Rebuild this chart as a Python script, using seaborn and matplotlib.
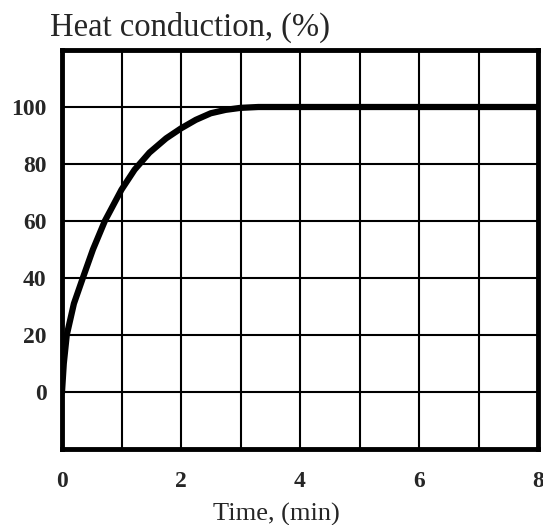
import matplotlib
matplotlib.use("Agg")
import matplotlib.pyplot as plt
import seaborn as sns
import pandas as pd

time_min = [0, 0.03, 0.08, 0.2, 0.35, 0.52, 0.72, 1.0, 1.22, 1.47, 1.75, 2.0, 2.25, 2.5, 2.75, 3.0, 3.3, 3.6, 8]
heat_pct = [0, 10, 20, 31, 40, 50, 60, 71, 78, 84, 89, 92.5, 95.5, 97.8, 99, 99.7, 100, 100, 100]

x_ticks = [0, 1, 2, 3, 4, 5, 6, 7, 8]
x_labels = ["0", "", "2", "", "4", "", "6", "", "8"]
y_ticks = [-20, 0, 20, 40, 60, 80, 100, 120]
y_labels = ["", "0", "20", "40", "60", "80", "100", ""]

sns.set_style("white")
plt.rcParams["font.family"] = ["Liberation Serif", "DejaVu Serif"]

df = pd.DataFrame({"t": time_min, "h": heat_pct})

fig = plt.figure(figsize=(5.43, 5.25), dpi=100)
ax = fig.add_axes([62/543, 1-449/525, (538-62)/543, (449-50)/525])

sns.lineplot(data=df, x="t", y="h", ax=ax, color="black", linewidth=4.5, sort=True)

ax.set_xlim(0, 8)
ax.set_ylim(-20, 120)
ax.set_xticks(x_ticks)
ax.set_xticklabels(x_labels)
ax.set_yticks(y_ticks)
ax.set_yticklabels(y_labels)
ax.grid(True, color="black", linewidth=1.5)
ax.set_axisbelow(True)
for s in ax.spines.values():
    s.set_visible(True)
    s.set_color("black")
    s.set_linewidth(3.5)
ax.tick_params(axis="both", length=0, labelsize=17)
ax.tick_params(axis="x", pad=16)
ax.tick_params(axis="y", pad=11)
for lbl in ax.get_xticklabels() + ax.get_yticklabels():
    lbl.set_fontweight("bold")

ax.set_xlabel("")
ax.set_ylabel("")
fig.text(276/543, 1-521/525, "Time, (min)", ha="center", va="baseline", fontsize=19)
fig.text(50/543, 1-36/525, "Heat conduction, (%)", ha="left", va="baseline", fontsize=23.5)

fig.savefig("out.png", dpi=100)
